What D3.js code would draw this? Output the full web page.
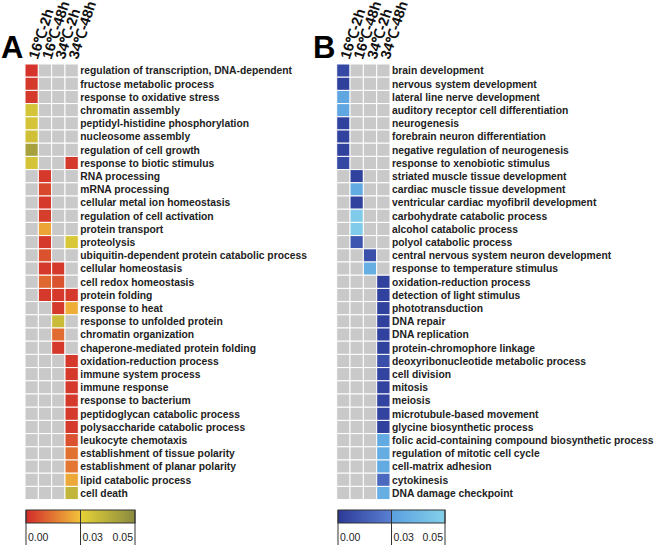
<!DOCTYPE html>
<html><head><meta charset="utf-8">
<script src="https://cdn.jsdelivr.net/npm/d3@7"></script>
<style>
html,body{margin:0;padding:0;background:#fff;}
svg{display:block;}
</style></head>
<body>
<svg id="chart" width="660" height="545"></svg>
<script>
// ---------- data ----------
const columns = ["16℃-2h", "16℃-48h", "34℃-2h", "34℃-48h"];

const termsA = [
  "regulation of transcription, DNA-dependent","fructose metabolic process","response to oxidative stress",
  "chromatin assembly","peptidyl-histidine phosphorylation","nucleosome assembly","regulation of cell growth",
  "response to biotic stimulus","RNA processing","mRNA processing","cellular metal ion homeostasis",
  "regulation of cell activation","protein transport","proteolysis","ubiquitin-dependent protein catabolic process",
  "cellular homeostasis","cell redox homeostasis","protein folding","response to heat","response to unfolded protein",
  "chromatin organization","chaperone-mediated protein folding","oxidation-reduction process","immune system process",
  "immune response","response to bacterium","peptidoglycan catabolic process","polysaccharide catabolic process",
  "leukocyte chemotaxis","establishment of tissue polarity","establishment of planar polarity",
  "lipid catabolic process","cell death"
];
// p-values per term, one per column (null = not enriched)
const valuesA = [
  [0.002,null,null,null],[0.003,null,null,null],[0.003,null,null,null],
  [0.034,null,null,null],[0.034,null,null,null],[0.035,null,null,null],[0.044,null,null,null],
  [0.034,null,null,0.003],[null,0.003,null,null],[null,0.006,null,null],[null,0.003,null,null],
  [null,0.004,null,null],[null,0.024,null,null],[null,0.003,null,0.033],[null,0.008,null,null],
  [null,0.003,0.003,null],[null,0.012,0.008,null],[null,0.003,0.003,0.003],[null,null,0.003,0.026],
  [null,null,0.036,null],[null,null,0.013,null],[null,null,0.003,null],[null,null,null,0.003],
  [null,null,null,0.003],[null,null,null,0.003],[null,null,null,0.003],[null,null,null,0.003],
  [null,null,null,0.003],[null,null,null,0.008],[null,null,null,0.014],[null,null,null,0.015],
  [null,null,null,0.025],[null,null,null,0.038]
];

const termsB = [
  "brain development","nervous system development","lateral line nerve development",
  "auditory receptor cell differentiation","neurogenesis","forebrain neuron differentiation",
  "negative regulation of neurogenesis","response to xenobiotic stimulus","striated muscle tissue development",
  "cardiac muscle tissue development","ventricular cardiac myofibril development","carbohydrate catabolic process",
  "alcohol catabolic process","polyol catabolic process","central nervous system neuron development",
  "response to temperature stimulus","oxidation-reduction process","detection of light stimulus","phototransduction",
  "DNA repair","DNA replication","protein-chromophore linkage","deoxyribonucleotide metabolic process",
  "cell division","mitosis","meiosis","microtubule-based movement","glycine biosynthetic process",
  "folic acid-containing compound biosynthetic process","regulation of mitotic cell cycle","cell-matrix adhesion",
  "cytokinesis","DNA damage checkpoint"
];
const valuesB = [
  [0.006,null,null,null],[0.002,null,null,null],[0.033,null,null,null],[0.033,null,null,null],
  [0.003,null,null,null],[0.003,null,null,null],[0.003,null,null,null],[0.006,null,null,null],
  [null,0.003,null,null],[null,0.034,null,null],[null,0.003,null,null],[null,0.048,null,null],
  [null,0.048,null,null],[null,0.012,null,null],[null,null,0.009,null],[null,null,0.036,null],
  [null,null,null,0.003],[null,null,null,0.003],[null,null,null,0.003],[null,null,null,0.003],
  [null,null,null,0.003],[null,null,null,0.003],[null,null,null,0.009],[null,null,null,0.004],
  [null,null,null,0.004],[null,null,null,0.004],[null,null,null,0.004],[null,null,null,0.003],
  [null,null,null,0.034],[null,null,null,0.035],[null,null,null,0.034],[null,null,null,0.02],
  [null,null,null,0.036]
];

const legendTicks = [0.00, 0.03, 0.05];
const colorStopsA = ["#d22a2a", "#f2c23a", "#e6d236", "#8a8a40"];
const colorStopsB = ["#2c3a98", "#5a80d2", "#5aa0e0", "#84d0ea"];

// ---------- drawing ----------
const svg = d3.select("#chart");
const rowH = 13.2, colW = 13.33, gridTop = 64;

function panel(opts) {
  const {x0, letter, letterX, terms, values, stops, legendX0, legendX1, gid} = opts;
  const g = svg.append("g");
  const xs = d3.scaleBand().domain(columns).range([x0, x0 + colW * columns.length]);
  const ys = d3.scaleBand().domain(terms).range([gridTop, gridTop + rowH * terms.length]);
  const color = d3.scaleLinear().domain([0, 0.03, 0.030001, 0.05]).range(stops).clamp(true);

  const cells = [];
  terms.forEach((t, i) => columns.forEach((c, j) => cells.push({t, c, v: values[i][j]})));
  g.selectAll("rect.cell").data(cells).join("rect")
    .attr("x", d => xs(d.c)).attr("y", d => ys(d.t))
    .attr("width", xs.bandwidth()).attr("height", ys.bandwidth())
    .attr("fill", d => d.v == null ? "#c9c9c9" : color(d.v))
    .attr("stroke", "#fff").attr("stroke-width", 1);

  g.selectAll("text.term").data(terms).join("text")
    .attr("x", x0 + colW * columns.length + 2)
    .attr("y", d => ys(d) + ys.bandwidth() / 2)
    .attr("dy", "0.36em")
    .attr("font-family", "Liberation Sans, Arial, sans-serif")
    .attr("font-weight", "bold").attr("font-size", 10.3)
    .attr("fill", "#222")
    .text(d => d);

  g.selectAll("text.col").data(columns).join("text")
    .attr("transform", d => `translate(${xs(d) + colW - 0.5},${gridTop - 4}) rotate(-72)`)
    .attr("font-family", "Liberation Sans, Arial, sans-serif")
    .attr("font-weight", "bold").attr("font-size", 14.5)
    .attr("fill", "#111")
    .text(d => d);

  g.append("text").attr("x", letterX).attr("y", 58)
    .attr("font-family", "Liberation Sans, Arial, sans-serif")
    .attr("font-weight", "bold").attr("font-size", 31)
    .attr("fill", "#000").text(letter);

  // legend
  const lx = d3.scaleLinear().domain([0, 0.03, 0.05]).range([legendX0, (legendX0 + legendX1) / 2, legendX1]);
  const defs = svg.append("defs");
  const mid = (lx(0.03) - legendX0) / (legendX1 - legendX0);
  const grad = defs.append("linearGradient").attr("id", gid).attr("x1", 0).attr("x2", 1).attr("y1", 0).attr("y2", 0);
  [[0, stops[0]], [mid, stops[1]], [mid, stops[2]], [1, stops[3]]].forEach(s =>
    grad.append("stop").attr("offset", s[0]).attr("stop-color", s[1]));
  const ly = 510, lh = 13;
  g.append("rect").attr("x", legendX0).attr("y", ly).attr("width", legendX1 - legendX0).attr("height", lh)
    .attr("fill", `url(#${gid})`).attr("stroke", "#333").attr("stroke-width", 1);
  const axisG = g.append("g");
  [legendX0, lx(0.03), legendX1].forEach(x =>
    axisG.append("line").attr("x1", x).attr("x2", x).attr("y1", ly).attr("y2", 545)
      .attr("stroke", "#333").attr("stroke-width", 1));
  axisG.selectAll("text").data(legendTicks).join("text")
    .attr("x", d => d === 0.05 ? lx(d) - 2 : lx(d) + 2)
    .attr("y", 541)
    .attr("text-anchor", d => d === 0.05 ? "end" : "start")
    .attr("font-family", "Liberation Sans, Arial, sans-serif")
    .attr("font-size", 10.5).attr("fill", "#222")
    .text(d => d3.format(".2f")(d));
}

panel({x0: 25, letter: "A", letterX: 1, terms: termsA, values: valuesA, stops: colorStopsA,
       legendX0: 26, legendX1: 135, gid: "gA"});
panel({x0: 336.7, letter: "B", letterX: 313, terms: termsB, values: valuesB, stops: colorStopsB,
       legendX0: 338, legendX1: 445, gid: "gB"});
</script>
</body></html>
